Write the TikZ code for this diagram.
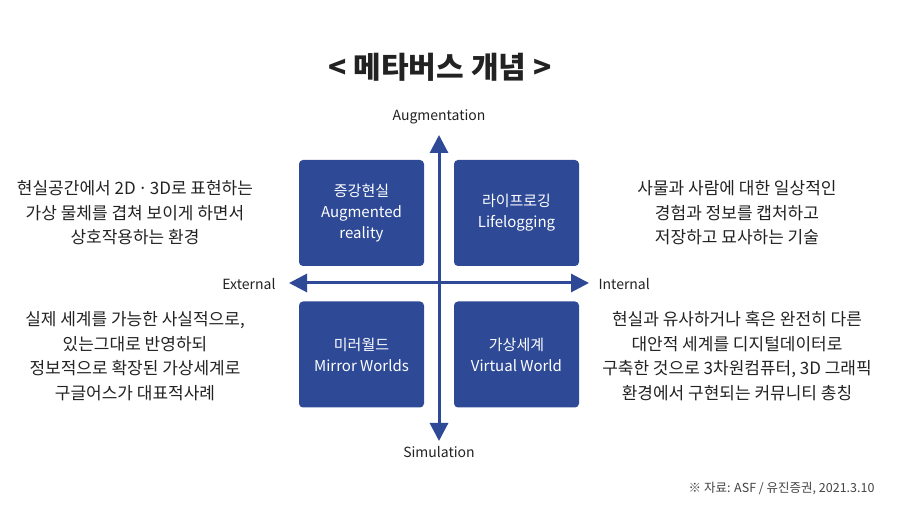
\documentclass[tikz,border=0pt]{standalone}
\usepackage{fontspec}
\setmainfont{Noto Sans CJK KR}
\usetikzlibrary{arrows.meta}
\definecolor{qblue}{HTML}{2E4A96}
\definecolor{txt}{HTML}{222222}
\tikzset{
  quad/.style={fill=qblue, rounded corners=4pt, minimum width=125pt, minimum height=106pt, inner sep=0pt, text=white, align=center, font=\fontsize{15}{21}\selectfont},
  axis/.style={draw=qblue, line width=3pt, -{Triangle[length=18pt,width=18pt]}},
  desc/.style={align=center, text=txt, font=\fontsize{17}{24.5}\selectfont},
  axlabel/.style={text=txt, font=\fontsize{14}{16}\selectfont}
}
\begin{document}
\begin{tikzpicture}[x=1pt,y=-1pt]
\useasboundingbox (0,0) rectangle (900,518);
\node[font=\fontsize{30}{34}\bfseries\selectfont, text=txt] (title) at (440,67) {< 메타버스 개념 >};
\coordinate (c) at (439,283);
\coordinate (top) at (439,135);
\coordinate (bot) at (439,441);
\coordinate (lft) at (289,283);
\coordinate (rgt) at (589,283);
\node[quad] (ar) at (361.5,213) {증강현실\\Augmented\\reality};
\node[quad] (lf) at (516.5,213) {라이프로깅\\Lifelogging};
\node[quad] (mw) at (361.5,354.5) {미러월드\\Mirror Worlds};
\node[quad] (vw) at (516.5,354.5) {가상세계\\Virtual World};
\draw[axis] (c) -- (top);
\draw[axis] (c) -- (bot);
\draw[axis] (c) -- (lft);
\draw[axis] (c) -- (rgt);
\node[axlabel] (aug) at (439,117) {Augmentation};
\node[axlabel] (sim) at (439,452) {Simulation};
\node[axlabel, anchor=east] (ext) at (279,284) {External};
\node[axlabel, anchor=west] (int) at (595,284) {Internal};
\node[desc] (d1) at (135,213) {현실공간에서 2D {\kern-1.5pt·\kern-1.5pt} 3D로 표현하는\\가상 물체를 겹쳐 보이게 하면서\\상호작용하는 환경};
\node[desc] (d2) at (737,213) {사물과 사람에 대한 일상적인\\경험과 정보를 캡처하고\\저장하고 묘사하는 기술};
\node[desc] (d3) at (135,356) {실제 세계를 가능한 사실적으로,\\있는그대로 반영하되\\정보적으로 확장된 가상세계로\\구글어스가 대표적사례};
\node[desc] (d4) at (737,356) {현실과 유사하거나 혹은 완전히 다른\\대안적 세계를 디지털데이터로\\구축한 것으로 3차원컴퓨터, 3D 그래픽\\환경에서 구현되는 커뮤니티 총칭};
\node[anchor=east, text=txt!85, font=\fontsize{12.5}{14}\selectfont] (src) at (878,489) {※ 자료: ASF / 유진증권, 2021.3.10};
\end{tikzpicture}
\end{document}
